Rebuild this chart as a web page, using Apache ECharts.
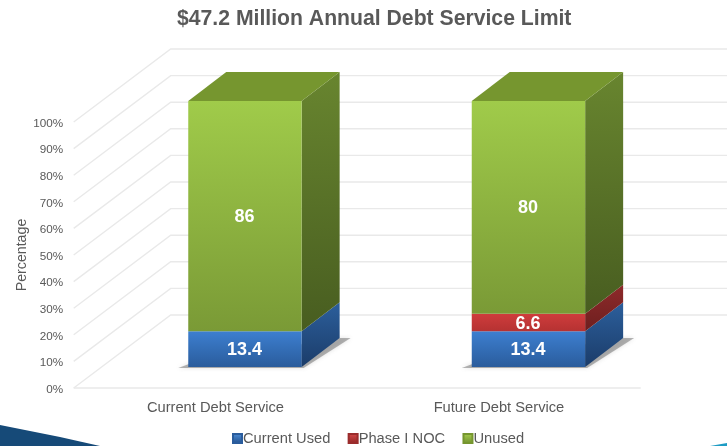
<!DOCTYPE html>
<html><head><meta charset="utf-8">
<style>html,body{margin:0;padding:0;background:#fff}#c{width:727px;height:446px}</style>
<script src="https://cdn.jsdelivr.net/npm/echarts@6/dist/echarts.min.js"></script>
</head><body><div id="c"></div>
<script>
var categories = ['Current Debt Service', 'Future Debt Service'];
var currentUsed = [13.4, 13.4];
var phaseINoc = [0, 6.6];
var unused = [86, 80];
var yTicks = [0, 10, 20, 30, 40, 50, 60, 70, 80, 90, 100];

var FONT = '"Liberation Sans", Arial, sans-serif';
var DX = 97, DY = 73;          // depth of the 3D floor
var BAR_OFF_X = 29.5, BAR_OFF_Y = 21; // bar's position within the depth
var BAR_DX = 38, BAR_DY = 29;  // depth of a bar
var BAR_W = 0.4;

function grad(a, b) {
  return new echarts.graphic.LinearGradient(0, 0, 0, 1, [{offset: 0, color: a}, {offset: 1, color: b}]);
}
var palette = {
  blue:  {front: ['#3d7fd0', '#2a5c9c'], side: ['#2c5f9c', '#1b3c69'], legend: ['#4f8fd8', '#1f4e8c'], edge: '#2a5c9c'},
  red:   {front: ['#cf3c3c', '#b53232'], side: ['#8e2a2a', '#6d1f1f'], legend: ['#d84a4a', '#8e2525'], edge: '#9a2c2c'},
  green: {front: ['#a0cb4a', '#7a9a36'], side: ['#68852f', '#485d20'], top: '#76962f', legend: ['#a8d04e', '#6f8f2e'], edge: '#76962f'}
};

var stacks = [currentUsed, phaseINoc, unused];
var totals = categories.map(function (_, i) {
  return stacks.reduce(function (s, arr) { return s + arr[i]; }, 0);
});

function rows(k) {
  return categories.map(function (_, i) {
    var base = 0;
    for (var j = 0; j < k; j++) base += stacks[j][i] / totals[i] * 100;
    var v = stacks[k][i] / totals[i] * 100;
    return [i, base + v, base, stacks[k][i]];
  });
}

function barRender(col, isTop, isBottom) {
  return function (params, api) {
    var raw = api.value(3);
    if (!raw) return null;
    var cx = api.coord([api.value(0), 0])[0] + BAR_OFF_X;
    var w = api.size([1, 0])[0] * BAR_W;
    var x0 = cx - w / 2, x1 = cx + w / 2;
    var yT = api.coord([0, api.value(1)])[1] - BAR_OFF_Y;
    var yB = api.coord([0, api.value(2)])[1] - BAR_OFF_Y;
    var kids = [];
    if (isBottom) {
      kids.push({type: 'polygon', z2: 1, shape: {points: [[x0 - 10, yB + 1], [x0 + 6, yB - 5], [x1 + BAR_DX, yB - BAR_DY], [x1 + BAR_DX + 11, yB - BAR_DY], [x1 + 2, yB + 1]]},
        style: {fill: 'rgba(80,80,80,0.42)', shadowBlur: 4, shadowColor: 'rgba(110,110,110,0.5)'}});
    }
    kids.push({type: 'polygon', z2: 2, shape: {points: [[x1, yB], [x1 + BAR_DX, yB - BAR_DY], [x1 + BAR_DX, yT - BAR_DY], [x1, yT]]},
      style: {fill: grad(col.side[0], col.side[1])}});
    kids.push({type: 'rect', z2: 3, shape: {x: x0, y: yT, width: w, height: yB - yT},
      style: {fill: grad(col.front[0], col.front[1])}});
    if (isTop) {
      kids.push({type: 'polygon', z2: 3, shape: {points: [[x0, yT], [x1, yT], [x1 + BAR_DX, yT - BAR_DY], [x0 + BAR_DX, yT - BAR_DY]]},
        style: {fill: col.top}});
    }
    kids.push({type: 'text', z2: 5, style: {text: String(raw), x: cx - 0.5, y: (yT + yB) / 2 + 1, fill: '#fff',
      font: 'bold 18px ' + FONT, textAlign: 'center', textVerticalAlign: 'middle'}});
    return {type: 'group', children: kids};
  };
}

function wallRender(params, api) {
  var c = params.coordSys, y = api.coord([0, api.value(1)])[1];
  var style = {stroke: '#e9e9e9', lineWidth: 1.4, fill: 'none'};
  var kids = [{type: 'polyline', shape: {points: [[c.x, y], [c.x + DX, y - DY], [c.x + c.width + DX, y - DY]]}, style: style}];
  if (api.value(1) === 0) {
    kids.push({type: 'line', shape: {x1: c.x, y1: y, x2: c.x + c.width, y2: y}, style: style});
  }
  return {type: 'group', children: kids};
}

function barSeries(name, k, col, isTop) {
  return {type: 'custom', name: name, z: 3, clip: false, coordinateSystem: 'cartesian2d',
    itemStyle: {color: grad(col.legend[0], col.legend[1]), borderColor: col.edge, borderWidth: 1},
    encode: {x: 0, y: 1}, data: rows(k), renderItem: barRender(col, isTop, k === 0)};
}

var chart = echarts.init(document.getElementById('c'), null, {renderer: 'canvas'});
chart.setOption({
  animation: false,
  backgroundColor: '#fff',
  textStyle: {fontFamily: FONT},
  title: {text: '$47.2 Million Annual Debt Service Limit', left: 172, top: 4,
    textStyle: {fontFamily: FONT, fontWeight: 'bold', fontSize: 21.2, color: '#595959'}},
  grid: {left: 73.7, top: 122, width: 567, height: 266, outerBoundsMode: 'none'},
  legend: {
    data: ['Current Used', 'Phase I NOC', 'Unused'],
    left: 227, top: 426, itemWidth: 9, itemHeight: 9, itemGap: 17.3,
    icon: 'rect', selectedMode: false,
    textStyle: {fontFamily: FONT, fontSize: 14.7, color: '#595959', padding: [0, 0, 0, -4]}
  },
  xAxis: {type: 'category', data: categories, boundaryGap: true,
    axisLine: {show: false}, axisTick: {show: false}, splitLine: {show: false},
    axisLabel: {fontFamily: FONT, fontSize: 14.7, color: '#595959', margin: 12}},
  yAxis: {type: 'value', min: 0, max: 100, interval: 10,
    name: 'Percentage', nameLocation: 'middle', nameGap: 45, nameMoveOverlap: false,
    nameTextStyle: {fontFamily: FONT, fontSize: 14.2, color: '#595959'},
    axisLine: {show: false}, axisTick: {show: false}, splitLine: {show: false},
    axisLabel: {formatter: '{value}%', fontFamily: FONT, fontSize: 11.7, color: '#595959', margin: 10.5, verticalAlign: 'top', lineHeight: 3}},
  series: [
    {type: 'custom', name: 'walls', z: 1, clip: false, silent: true, coordinateSystem: 'cartesian2d',
      encode: {x: 0, y: 1}, data: yTicks.map(function (t) { return [0, t]; }), renderItem: wallRender},
    barSeries('Current Used', 0, palette.blue, false),
    barSeries('Phase I NOC', 1, palette.red, false),
    barSeries('Unused', 2, palette.green, true)
  ],
  graphic: [
    {type: 'polygon', silent: true, shape: {points: [[0, 425], [30, 431], [60, 437], [100, 446], [0, 446]]}, style: {fill: '#164a78'}},
    {type: 'polygon', silent: true, shape: {points: [[710, 446], [727, 443], [727, 446]]}, style: {fill: '#1e9cc4'}}
  ]
});
</script></body></html>
